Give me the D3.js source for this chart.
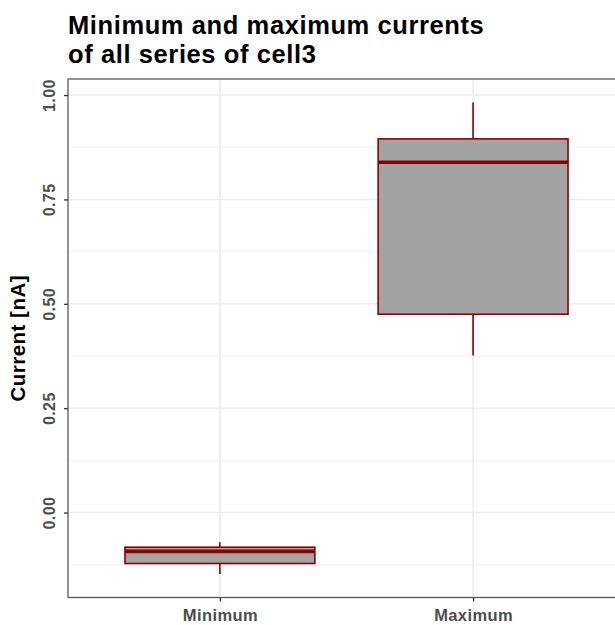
<!DOCTYPE html>
<html>
<head>
<meta charset="utf-8">
<script src="https://cdn.jsdelivr.net/npm/d3@7"></script>
<style>
  html, body { margin: 0; padding: 0; background: #fff; }
  svg { display: block; }
</style>
</head>
<body>
<script>
// Summary statistics for each box (current in nA)
const categories = ["Minimum", "Maximum"];
const whiskerLow  = [-0.147, 0.376];
const boxLow      = [-0.122, 0.475];
const medians     = [-0.093, 0.839];
const boxHigh     = [-0.083, 0.895];
const whiskerHigh = [-0.071, 0.982];
const yTicks = [0, 0.25, 0.5, 0.75, 1.0];
const yMinorTicks = [-0.125, 0.125, 0.375, 0.625, 0.875];

const W = 615, H = 625;
const panel = { left: 68, top: 79, right: 625, bottom: 597.5 };
const FONT = "Liberation Sans, Arial, sans-serif";

const svg = d3.select("body").append("svg").attr("width", W).attr("height", H);

// discrete x positions with 0.6 expansion on each side
const x = d3.scaleLinear().domain([0.4, categories.length + 0.6]).range([panel.left, panel.right]);
const lo = d3.min(whiskerLow), hi = d3.max(whiskerHigh);
const pad = (hi - lo) * 0.05;
const y = d3.scaleLinear().domain([lo - pad, hi + pad]).range([panel.bottom, panel.top]);

const g = svg.append("g");

// grid
g.selectAll("line.minor").data(yMinorTicks).join("line")
  .attr("x1", panel.left).attr("x2", panel.right)
  .attr("y1", d => y(d)).attr("y2", d => y(d))
  .attr("stroke", "#F2F2F2").attr("stroke-width", 1);
g.selectAll("line.major").data(yTicks).join("line")
  .attr("x1", panel.left).attr("x2", panel.right)
  .attr("y1", d => y(d)).attr("y2", d => y(d))
  .attr("stroke", "#EBEBEB").attr("stroke-width", 1.5);
g.selectAll("line.xmajor").data(categories).join("line")
  .attr("x1", (d, i) => x(i + 1)).attr("x2", (d, i) => x(i + 1))
  .attr("y1", panel.top).attr("y2", panel.bottom)
  .attr("stroke", "#EBEBEB").attr("stroke-width", 1.5);

// boxes
const boxW = 0.75;
const dark = "#8B0000";
categories.forEach((c, i) => {
  const cx = x(i + 1);
  const x0 = x(i + 1 - boxW / 2), x1 = x(i + 1 + boxW / 2);
  g.append("line").attr("x1", cx).attr("x2", cx)
    .attr("y1", y(whiskerHigh[i])).attr("y2", y(boxHigh[i]))
    .attr("stroke", dark).attr("stroke-width", 1.6);
  g.append("line").attr("x1", cx).attr("x2", cx)
    .attr("y1", y(boxLow[i])).attr("y2", y(whiskerLow[i]))
    .attr("stroke", dark).attr("stroke-width", 1.6);
  g.append("rect").attr("x", x0).attr("y", y(boxHigh[i]))
    .attr("width", x1 - x0).attr("height", y(boxLow[i]) - y(boxHigh[i]))
    .attr("fill", "#A3A3A3").attr("stroke", dark).attr("stroke-width", 1.6);
  g.append("line").attr("x1", x0).attr("x2", x1)
    .attr("y1", y(medians[i])).attr("y2", y(medians[i]))
    .attr("stroke", dark).attr("stroke-width", 3.6);
});

// panel border
svg.append("rect").attr("x", panel.left).attr("y", panel.top)
  .attr("width", panel.right - panel.left).attr("height", panel.bottom - panel.top)
  .attr("fill", "none").attr("stroke", "#5A5A5A").attr("stroke-width", 1.3);

// y axis
const yAxis = svg.append("g").attr("transform", `translate(${panel.left},0)`)
  .call(d3.axisLeft(y).tickValues(yTicks).tickFormat(d3.format(".2f")).tickSize(4).tickPadding(0));
yAxis.select(".domain").remove();
yAxis.selectAll(".tick line").attr("stroke", "#333").attr("stroke-width", 1.3);
yAxis.selectAll(".tick text").remove();
yAxis.selectAll(".tick").append("text")
  .attr("transform", "translate(-19,0) rotate(-90)")
  .attr("text-anchor", "middle").attr("dy", "0.35em")
  .attr("fill", "#4D4D4D").attr("font-family", FONT)
  .attr("font-weight", "bold").attr("font-size", 16).attr("letter-spacing", 0.4)
  .text(d => d3.format(".2f")(d));

// x axis
const xAxis = svg.append("g").attr("transform", `translate(0,${panel.bottom})`)
  .call(d3.axisBottom(x).tickValues(categories.map((c, i) => i + 1)).tickSize(4).tickFormat((d) => categories[d - 1]));
xAxis.select(".domain").remove();
xAxis.selectAll(".tick line").attr("stroke", "#333").attr("stroke-width", 1.3);
xAxis.selectAll(".tick text")
  .attr("y", 18).attr("dy", "0.35em")
  .attr("fill", "#4D4D4D").attr("font-family", FONT)
  .attr("font-weight", "bold").attr("font-size", 16.5).attr("letter-spacing", 0.4);

// axis title
svg.append("text")
  .attr("transform", `translate(25,${(panel.top + panel.bottom) / 2}) rotate(-90)`)
  .attr("text-anchor", "middle")
  .attr("font-family", FONT)
  .attr("font-weight", "bold").attr("font-size", 20.5).attr("letter-spacing", 0.5)
  .attr("fill", "#000")
  .text("Current [nA]");

// title
const title = svg.append("text")
  .attr("font-family", FONT)
  .attr("font-weight", "bold").attr("font-size", 25.5).attr("letter-spacing", 0.6)
  .attr("fill", "#000");
title.append("tspan").attr("x", 68).attr("y", 33.5).text("Minimum and maximum currents");
title.append("tspan").attr("x", 68).attr("y", 62.5).text("of all series of cell3");
</script>
</body>
</html>
